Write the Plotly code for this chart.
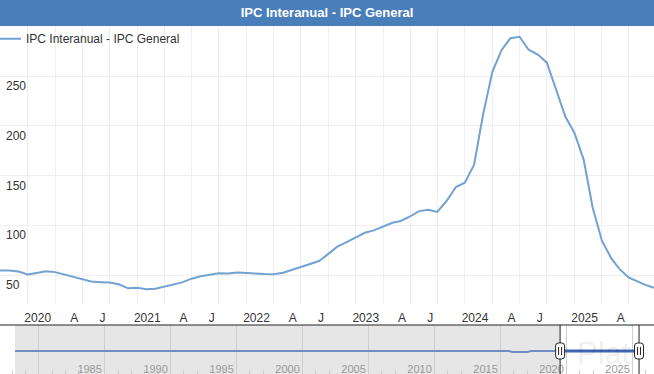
import plotly.graph_objects as go
import pandas as pd

# ---------------- data ----------------
months = pd.date_range("2019-07-01", "2025-07-01", freq="MS")
ipc_interanual = [
    54.4, 54.5, 53.5, 50.5, 52.1, 53.8,                                  # 2019 Jul-Dec
    52.9, 50.3, 48.4, 45.6, 43.4, 42.8, 42.4, 40.7, 36.6, 37.2, 35.8, 36.1,  # 2020
    38.5, 40.7, 42.6, 46.3, 48.8, 50.2, 51.8, 51.4, 52.5, 52.1, 51.2, 50.9,  # 2021
    50.7, 52.3, 55.1, 58.0, 60.7, 64.0, 71.0, 78.5, 83.0, 88.0, 92.4, 94.8,  # 2022
    98.8, 102.5, 104.3, 108.8, 114.2, 115.6, 113.4, 124.4, 138.3, 142.7, 160.9, 211.4,  # 2023
    254.2, 276.2, 287.9, 289.4, 276.4, 271.5, 263.4, 236.7, 209.0, 193.0, 166.0, 117.8,  # 2024
    84.5, 66.9, 55.9, 47.3, 43.5, 39.4, 36.6,                           # 2025 Jan-Jul
]
series_name = "IPC Interanual - IPC General"
title_text = "IPC Interanual - IPC General"

y_tick_values = [50, 100, 150, 200, 250]
quarter_labels = {4: "A", 7: "J", 10: ""}   # Jan shows the year

# navigator (full history, shown flat)
nav_years = [1978.2, 2015.6, 2015.9, 2017.0, 2017.3, 2019.5]
nav_values = [0, 0, -0.02, -0.02, 0, 0]
nav_label_years = [1985, 1990, 1995, 2000, 2005, 2010, 2015, 2020, 2025]
nav_grid_years = [1980, 1985, 1990, 1995, 2000, 2005, 2010, 2015, 2020, 2025]

# ---------------- layout helpers ----------------
W, H = 654, 374
FONT = "Liberation Sans, Arial, sans-serif"
def py(p):  # pixel row -> paper y
    return (H - p) / H

view_start = pd.Timestamp("2019-07-01")
view_end = pd.Timestamp("2025-06-24")

tick_dates = pd.date_range("2019-10-01", "2025-04-01", freq="QS")
tick_text = [str(d.year) if d.month == 1 else quarter_labels[d.month] for d in tick_dates]

def to_year(ts):
    return ts.year + (ts.dayofyear - 1) / 365.25

sel_start = to_year(view_start)
sel_end = to_year(view_end)
nav_left, nav_right = 1977.06, 2026.61

fig = go.Figure()

fig.add_trace(go.Scatter(
    x=months, y=ipc_interanual, mode="lines", name=series_name,
    line=dict(color="#72a2d2", width=2), xaxis="x", yaxis="y",
    showlegend=True,
))

# navigator lines
fig.add_trace(go.Scatter(
    x=nav_years, y=nav_values, mode="lines", line=dict(color="#6f8cc4", width=2),
    xaxis="x2", yaxis="y2", showlegend=False, hoverinfo="skip",
))
fig.add_trace(go.Scatter(
    x=[sel_start, sel_end], y=[0, 0], mode="lines", line=dict(color="#3e66b3", width=3),
    xaxis="x2", yaxis="y2", showlegend=False, hoverinfo="skip",
))
# label axis for navigator
fig.add_trace(go.Scatter(
    x=[nav_left, nav_right], y=[None, None], mode="lines",
    xaxis="x3", yaxis="y2", showlegend=False, hoverinfo="skip",
))

shapes = [
    # title bar
    dict(type="rect", xref="paper", yref="paper", x0=0, x1=1, y0=py(26), y1=1,
         fillcolor="#4a7ebb", line=dict(width=0), layer="below"),
    # navigator mask (unselected part)
    dict(type="rect", xref="x2", yref="paper", x0=1978.2, x1=sel_start, y0=0, y1=py(325),
         fillcolor="#e6e6e6", line=dict(width=0), layer="below"),
    # navigator top outline
    dict(type="line", xref="paper", yref="paper", x0=0, x1=1, y0=py(325), y1=py(325),
         line=dict(color="#222222", width=1), layer="above"),
]
for hx in (sel_start, sel_end):
    shapes.append(dict(type="line", xref="x2", yref="paper", x0=hx, x1=hx, y0=0, y1=py(325),
                       line=dict(color="#222222", width=1), layer="above"))
    shapes.append(dict(type="path", xref="x2", yref="y2", xsizemode="pixel", ysizemode="pixel",
                       xanchor=hx, yanchor=0,
                       path="M -4.5,-5 Q -4.5,-8 -1.5,-8 L 1.5,-8 Q 4.5,-8 4.5,-5 L 4.5,5 "
                            "Q 4.5,8 1.5,8 L -1.5,8 Q -4.5,8 -4.5,5 Z",
                       fillcolor="white", line=dict(color="#222222", width=1), layer="above"))
    shapes.append(dict(type="path", xref="x2", yref="y2", xsizemode="pixel", ysizemode="pixel",
                       xanchor=hx, yanchor=0,
                       path="M -1.5,-4 L -1.5,4 M 1.5,-4 L 1.5,4",
                       line=dict(color="#222222", width=1), layer="above"))

fig.update_layout(
    width=W, height=H,
    margin=dict(l=0, r=0, t=0, b=0, pad=0, autoexpand=False),
    paper_bgcolor="white", plot_bgcolor="rgba(0,0,0,0)",
    font=dict(family=FONT, size=12, color="#333333"),
    title=dict(text=title_text, x=0.5, xanchor="center", y=py(12.5), yanchor="middle",
               font=dict(family=FONT, size=13, color="white", weight="bold")),
    showlegend=True,
    legend=dict(x=-14 / W, xanchor="left", y=py(38.7), yanchor="middle",
                bgcolor="rgba(0,0,0,0)", font=dict(size=12, color="#333333"),
                itemclick=False, itemdoubleclick=False),
    xaxis=dict(
        domain=[0, 1], anchor="y", type="date",
        range=[view_start, view_end],
        tickvals=list(tick_dates), ticktext=tick_text,
        ticklabelposition="outside left", ticklabelstandoff=4, ticklabelshift=-4,
        showgrid=True, gridcolor="#efefef", gridwidth=1,
        ticks="", showline=False, zeroline=False,
        tickfont=dict(size=12, color="#333333"),
    ),
    yaxis=dict(
        domain=[py(305), py(26)], anchor="x",
        range=[19.85, 300.25],
        tickvals=y_tick_values,
        ticklabelposition="inside", ticklabelstandoff=3, ticklabelshift=10,
        showgrid=True, gridcolor="#efefef", gridwidth=1,
        ticks="", showline=False, zeroline=False,
        tickfont=dict(size=12, color="#333333"),
    ),
    xaxis2=dict(
        domain=[0, 1], anchor="y2", range=[nav_left, nav_right],
        tickvals=nav_grid_years, showticklabels=False,
        showgrid=True, gridcolor="#cfcfcf", gridwidth=1,
        ticks="", showline=False, zeroline=False,
        minor=dict(tick0=1980, dtick=1, ticks="inside", ticklen=4, tickcolor="#cccccc",
                   showgrid=False),
    ),
    xaxis3=dict(
        domain=[0, 1], anchor="y2", overlaying="x2", side="top", range=[nav_left, nav_right],
        tickvals=[y - 1.15 for y in nav_label_years], ticktext=[str(y) for y in nav_label_years],
        ticklabelposition="inside", ticklabelstandoff=37,
        showgrid=False, ticks="", showline=False, zeroline=False,
        tickfont=dict(size=11, color="#999999"),
    ),
    yaxis2=dict(
        domain=[0, py(325)], anchor="x2", range=[-0.47, 0.53],
        showgrid=False, showticklabels=False, ticks="", zeroline=False, showline=False,
    ),
    shapes=shapes,
    annotations=[dict(
        text="Plat", xref="paper", yref="paper", x=575 / W, xanchor="left",
        y=py(353), yanchor="middle", showarrow=False,
        font=dict(family=FONT, size=31, color="rgba(0,0,0,0.07)"),
    )],
)

fig.write_html("out.html", config={"displayModeBar": False},
               post_script="document.body.style.margin='0';")
